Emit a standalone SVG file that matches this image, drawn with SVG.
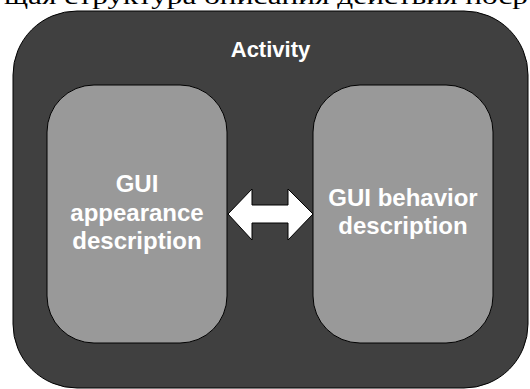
<svg xmlns="http://www.w3.org/2000/svg" width="530" height="389" viewBox="0 0 530 389">
<style>
.lbl{font-family:"Liberation Sans",Arial,sans-serif;font-weight:bold;fill:#ffffff;text-anchor:middle}
.box{fill:#999999;stroke:#000000;stroke-width:1}
</style>
<rect width="530" height="389" fill="#ffffff"/>
<text x="4" y="4" font-family="Liberation Serif,'Times New Roman',serif" font-size="23" fill="#000000" textLength="524" lengthAdjust="spacingAndGlyphs">щая структура описания действия поср</text>
<g id="activity">
<rect x="13" y="11" width="515" height="377" rx="64" ry="64" fill="#404040" stroke="#000000" stroke-width="1"/>
<text class="lbl" x="270.5" y="57" font-size="22">Activity</text>
</g>
<g id="appearance">
<rect class="box" x="47" y="85" width="180" height="258" rx="47" ry="47"/>
<text class="lbl" x="137" y="192" font-size="24">GUI</text>
<text class="lbl" x="137" y="221" font-size="24">appearance</text>
<text class="lbl" x="137" y="249" font-size="24">description</text>
</g>
<g id="behavior">
<rect class="box" x="313" y="85" width="180" height="258" rx="47" ry="47"/>
<text class="lbl" x="403" y="206" font-size="24">GUI behavior</text>
<text class="lbl" x="403" y="234" font-size="24">description</text>
</g>
<g id="connectors">
<polygon points="228,214 252,189 252,205 288,205 288,189 313,214 288,240 288,223 252,223 252,240" fill="#ffffff" stroke="#000000" stroke-width="1"/>
</g>
</svg>
